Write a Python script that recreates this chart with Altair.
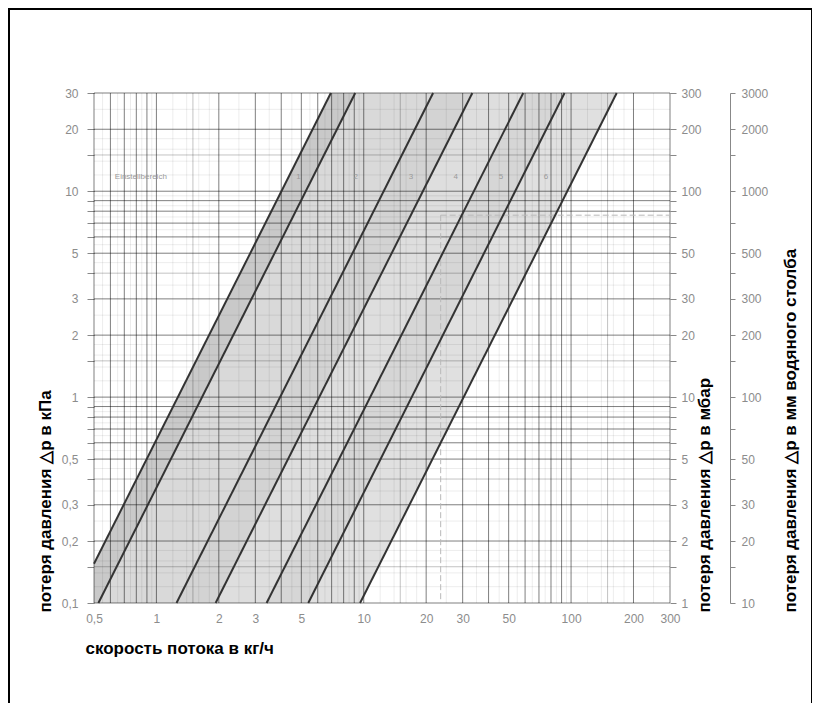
import altair as alt
import pandas as pd

# ---- characteristic lines (flow kg/h, pressure loss kPa)
line_ids = ["a", "b", "c", "d", "e", "f", "g"]
start_q = [0.5, 0.525, 1.25, 1.93, 3.4, 5.4, 9.6]
start_dp = [0.155, 0.1, 0.1, 0.1, 0.1, 0.1, 0.1]
end_q = [6.94, 9.1, 21.6, 33.4, 58.8, 93.0, 166.0]
end_dp = [30, 30, 30, 30, 30, 30, 30]
band_fill = ["#c9c9c9", "#d9d9d9", "#d3d3d3", "#dedede", "#d6d6d6", "#e0e0e0", "#ffffff"]

band_names = ["1", "2", "3", "4", "5", "6"]
band_name_q = [4.85, 9.15, 16.9, 27.8, 45.9, 75.7]
band_name_dp = [11.2, 11.2, 11.2, 11.2, 11.2, 11.2]

note_text = ["Einstellbereich"]
note_q = [0.63]
note_dp = [11.2]

example_q = [23.5]
example_dp = [7.65]
q_max = [300]
dp_min = [0.1]

# ---- axes
x_labels = [0.5, 1, 2, 3, 5, 10, 20, 30, 50, 100, 200, 300]
y_labels = [0.1, 0.2, 0.3, 0.5, 1, 2, 3, 5, 10, 20, 30]
y_minor_ticks = [0.15, 0.4, 0.6, 0.7, 0.8, 0.9, 1.5, 4, 6, 7, 8, 9, 15]
mbar_labels = [1, 2, 3, 5, 10, 20, 30, 50, 100, 200, 300]
mbar_minor_ticks = [1.5, 4, 6, 7, 8, 9, 15, 40, 60, 70, 80, 90, 150]
mm_labels = [10, 20, 30, 50, 100, 200, 300, 500, 1000, 2000, 3000]
mm_minor_ticks = [15, 40, 70, 150, 400, 700, 1500]

# ---- grid positions (styling)
decades = [0.1, 1, 10, 100]
x_dark_m = [1, 2, 3, 4, 5, 6, 7, 8, 9]
y_dark_m = [1, 2, 3, 5, 6, 7, 8, 9]
mid_m = [1.5]
y_mid_m = [1.5, 4]
faint_m = [1.2, 1.4, 1.6, 1.8, 2.5, 3.5, 4.5, 5.5, 6.5, 7.5, 8.5, 9.5]


def spread(ms, lo, hi):
    return [round(m * d, 6) for d in decades for m in ms if lo - 1e-9 <= m * d <= hi + 1e-9]


tick_font = "Liberation Sans Narrow, Liberation Sans, Arial"
title_font = "Liberation Sans, Arial"
grey = "#8c8c8c"

xs = alt.Scale(type="log", domain=[0.5, 300], nice=False)
ys = alt.Scale(type="log", domain=[0.1, 30], nice=False)

comma = "replace(toString(datum.value), '.', ',')"

x_axis = alt.Axis(
    values=x_labels, labelExpr=comma, ticks=False, domain=False, grid=False,
    labelColor=grey, labelFont=tick_font, labelFontSize=12, labelPadding=10,
    labelOverlap=False, labelFlush=False,
    title="скорость потока в кг/ч", titleFont=title_font, titleFontSize=17,
    titleFontWeight="bold", titleColor="black", titleAlign="left",
    titleBaseline="middle", titleX=-9, titleY=45,
)
y_axis = alt.Axis(
    values=y_labels + y_minor_ticks,
    labelExpr="indexof(%s, datum.value) >= 0 ? %s : ''" % (str(y_labels), comma),
    tickSize=7, tickColor="#888888", domain=False, grid=False,
    labelColor=grey, labelFont=tick_font, labelFontSize=12, labelPadding=9,
    labelOverlap=False, labelFlush=False,
    title="потеря давления △p в кПа", titleFont=title_font, titleFontSize=17,
    titleFontWeight="bold", titleColor="black", titleAngle=270, titleAlign="left",
    titleBaseline="middle", titleX=-49, titleY=519,
)


def X(field="q"):
    return alt.X(f"{field}:Q", scale=xs, axis=x_axis)


def Y(field="dp"):
    return alt.Y(f"{field}:Q", scale=ys, axis=y_axis)


layers = []

# bands: area under each line, painted from left to right
for lid, sq, sd, eq, ed, col in zip(line_ids, start_q, start_dp, end_q, end_dp, band_fill):
    df = pd.DataFrame({"q": [sq, eq, q_max[0]], "dp": [sd, ed, ed]})
    layers.append(
        alt.Chart(df).mark_area(color=col, opacity=1, interpolate="linear").encode(
            x=X(), y=alt.Y("dp:Q", scale=ys, axis=y_axis, stack=None), y2=alt.datum(dp_min[0])
        )
    )

# grid
grid_specs = [
    (spread(faint_m, 0.5, 300), spread(faint_m, 0.1, 30), 0.13, 0.6),
    (spread(mid_m, 0.5, 300), spread(y_mid_m, 0.1, 30), 0.3, 0.8),
    (spread(x_dark_m, 0.5, 300), spread(y_dark_m, 0.1, 30), 0.5, 1.0),
]
for xv, yv, op, sw in grid_specs:
    layers.append(
        alt.Chart(pd.DataFrame({"q": xv})).mark_rule(color="black", strokeOpacity=op, strokeWidth=sw).encode(x=X())
    )
    layers.append(
        alt.Chart(pd.DataFrame({"dp": yv})).mark_rule(color="black", strokeOpacity=op, strokeWidth=sw).encode(y=Y())
    )

# dashed example reading
ex = pd.DataFrame({"q": example_q, "q2": q_max, "dp": example_dp, "dp2": dp_min})
layers.append(
    alt.Chart(ex).mark_rule(color="#b8b8b8", strokeDash=[6, 3], strokeWidth=1).encode(x=X(), x2="q2:Q", y=Y())
)
layers.append(
    alt.Chart(ex).mark_rule(color="#b8b8b8", strokeDash=[6, 3], strokeWidth=1).encode(x=X(), y=Y(), y2="dp2:Q")
)

# characteristic lines
rows = []
for lid, sq, sd, eq, ed in zip(line_ids, start_q, start_dp, end_q, end_dp):
    rows.append({"line": lid, "q": sq, "dp": sd, "o": 0})
    rows.append({"line": lid, "q": eq, "dp": ed, "o": 1})
layers.append(
    alt.Chart(pd.DataFrame(rows)).mark_line(color="#333333", strokeWidth=2).encode(
        x=X(), y=Y(), detail="line:N", order="o:Q"
    )
)

# small labels
layers.append(
    alt.Chart(pd.DataFrame({"q": band_name_q, "dp": band_name_dp, "t": band_names}))
    .mark_text(font=tick_font, fontSize=8, color="#9a9a9a", baseline="bottom")
    .encode(x=X(), y=Y(), text="t:N")
)
layers.append(
    alt.Chart(pd.DataFrame({"q": note_q, "dp": note_dp, "t": note_text}))
    .mark_text(font=tick_font, fontSize=8, color="#9a9a9a", baseline="bottom", align="left")
    .encode(x=X(), y=Y(), text="t:N")
)

# outer frame
layers.append(
    alt.Chart(pd.DataFrame({"k": [0]})).mark_rect(fillOpacity=0, stroke="black", strokeWidth=2, clip=False).encode(
        x=alt.value(-85), x2=alt.value(718), y=alt.value(-84), y2=alt.value(640)
    )
)

main = alt.layer(*layers)

mbar_axis = alt.Axis(
    orient="right", values=mbar_labels + mbar_minor_ticks,
    labelExpr="indexof(%s, datum.value) >= 0 ? %s : ''" % (str(mbar_labels), comma),
    tickSize=6, tickColor="#888888", domain=False, grid=False,
    labelColor=grey, labelFont=tick_font, labelFontSize=12, labelPadding=5,
    labelOverlap=False, labelFlush=False,
    title="потеря давления △p в мбар", titleFont=title_font, titleFontSize=17,
    titleFontWeight="bold", titleColor="black", titleAngle=270, titleAlign="left",
    titleBaseline="middle", titleX=34, titleY=519,
)
mm_axis = alt.Axis(
    orient="right", offset=60, values=mm_labels + mm_minor_ticks,
    labelExpr="indexof(%s, datum.value) >= 0 ? %s : ''" % (str(mm_labels), comma),
    tickSize=5, tickColor="#888888", domain=True, domainColor="#888888",
    grid=False, labelColor=grey, labelFont=tick_font, labelFontSize=12, labelPadding=6,
    labelOverlap=False, labelFlush=False,
    title="потеря давления △p в мм водяного столба", titleFont=title_font, titleFontSize=17,
    titleFontWeight="bold", titleColor="black", titleAngle=270, titleAlign="left",
    titleBaseline="middle", titleX=60, titleY=519,
)

mbar_layer = alt.Chart(pd.DataFrame({"v": [1, 300]})).mark_point(opacity=0).encode(
    y=alt.Y("v:Q", scale=alt.Scale(type="log", domain=[1, 300], nice=False), axis=mbar_axis)
)
mm_layer = alt.Chart(pd.DataFrame({"w": [10, 3000]})).mark_point(opacity=0).encode(
    y=alt.Y("w:Q", scale=alt.Scale(type="log", domain=[10, 3000], nice=False), axis=mm_axis)
)

chart = (
    alt.layer(main, mbar_layer, mm_layer)
    .resolve_scale(y="independent")
    .properties(
        width=576, height=510,
        padding={"left": 86, "top": 85, "right": 142, "bottom": 100},
        autosize=alt.AutoSizeParams(type="none"),
        background="white",
    )
    .configure_view(stroke=None)
)

chart.save("out.html", embed_options={"renderer": "svg", "actions": False})
